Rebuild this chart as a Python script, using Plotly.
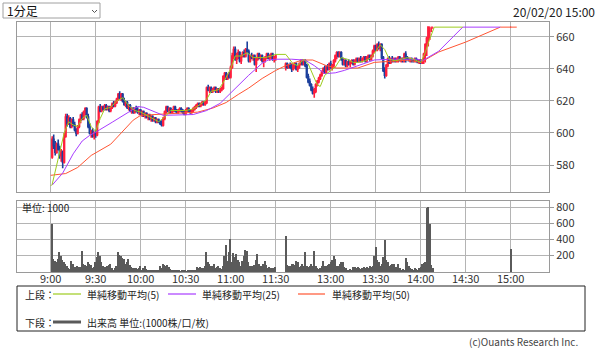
import plotly.graph_objects as go
import pandas as pd

# ---------------- data ----------------
morning_times = pd.date_range("2020-02-20 09:01", "2020-02-20 11:30", freq="min")
afternoon_times = pd.date_range("2020-02-20 12:30", "2020-02-20 14:08", freq="min")
closing_time = pd.Timestamp("2020-02-20 15:00")
bar_times = list(morning_times) + list(afternoon_times) + [closing_time]

opens = [585,596,592,588,593,590,586,588,582,598,610,606,609,604,608,605,602,600,604,608,
         611,609,613,615,610,604,600,601,598,600,599,607,616,614,616,615,617,615,616,614,
         616,618,617,619,621,624,622,624,620,618,619,616,617,614,615,613,615,614,613,614,
         612,613,611,612,610,611,609,610,608,609,607,608,607,606,605,609,613,616,614,615,
         613,614,616,614,613,614,615,614,613,612,614,615,614,613,614,615,616,617,618,617,
         618,619,618,619,628,627,628,626,627,628,626,627,626,627,628,635,637,634,636,635,
         641,648,652,646,648,650,645,648,650,648,652,651,645,648,647,648,643,646,649,647,
         648,645,646,647,649,647,648,649,646,647,
         641,643,641,642,641,640,642,643,640,641,643,645,643,645,642,635,632,630,627,625,
         626,630,632,634,636,638,640,638,641,640,643,641,642,645,648,650,648,650,646,643,
         645,642,644,643,644,645,643,645,646,645,646,645,646,647,645,647,648,646,648,651,
         654,652,655,653,655,647,639,636,642,646,644,646,645,646,645,646,647,645,646,645,
         649,647,646,645,646,645,645,646,645,644,645,644,645,649,655,659,666,666,666,
         666]
highs = [598,599,595,594,596,592,590,589,600,612,612,611,610,609,610,607,603,605,609,612,
         613,614,616,616,612,606,602,603,601,602,608,617,618,617,617,618,618,617,617,617,
         619,620,620,622,625,626,625,625,622,620,620,618,618,616,616,616,617,616,615,615,
         614,614,613,613,612,612,611,611,610,610,609,609,608,608,610,614,617,617,616,616,
         615,617,617,615,615,616,616,615,614,615,616,616,615,615,616,617,618,619,619,619,
         620,620,620,629,630,629,629,628,629,629,628,628,628,629,636,638,638,637,638,642,
         650,654,654,650,652,651,649,651,652,653,657,652,649,650,649,649,647,650,650,649,
         649,647,648,650,650,649,650,650,648,649,
         644,644,643,644,643,643,644,644,642,644,646,646,646,646,643,637,634,631,629,628,
         631,633,635,637,639,641,642,642,643,644,645,643,646,649,651,651,651,651,647,646,
         646,645,646,645,646,646,646,647,647,647,648,647,648,648,648,649,649,649,652,655,
         655,656,657,656,656,648,641,643,647,648,647,648,647,647,647,648,648,647,647,650,
         651,648,647,647,647,646,647,647,646,646,646,646,650,656,660,666,666,666,666,
         666]
lows = [584,590,586,587,589,584,582,578,581,597,604,605,603,603,604,601,598,599,603,606,
        608,608,611,609,603,599,597,597,596,597,598,606,613,613,614,614,614,614,613,613,
        615,616,616,618,620,621,620,619,617,616,615,614,613,612,612,612,613,612,611,611,
        610,610,609,609,608,608,607,607,607,606,606,606,605,604,604,608,612,613,612,612,
        612,613,613,612,612,613,613,612,611,611,613,613,612,612,613,614,615,616,616,616,
        617,617,617,618,626,625,625,625,626,625,625,625,625,626,627,633,633,633,634,634,
        640,646,645,643,646,644,643,647,647,647,650,644,644,646,645,642,638,645,646,645,
        644,641,644,646,646,645,646,645,644,645,
        639,640,640,640,638,639,640,639,638,640,642,642,642,641,634,631,629,626,624,622,
        625,629,631,633,635,637,637,637,639,639,640,639,641,644,646,647,647,645,642,642,
        641,641,642,641,643,642,642,644,644,644,644,644,645,644,644,646,645,645,647,650,
        651,651,652,651,646,638,634,635,641,643,643,644,644,644,644,644,645,644,644,644,
        644,646,645,644,644,644,644,644,644,643,643,643,643,644,648,654,658,663,665,666,
        666]
closes = [596,592,588,593,590,586,588,582,598,610,606,609,604,608,605,602,600,604,608,611,
          609,613,615,610,604,600,601,598,600,599,607,616,614,616,615,617,615,616,614,616,
          618,617,619,621,624,622,624,620,618,619,616,617,614,615,613,615,614,613,614,612,
          613,611,612,610,611,609,610,608,609,607,608,607,606,605,609,613,616,614,615,613,
          614,616,614,613,614,615,614,613,612,614,615,614,613,614,615,616,617,618,617,618,
          619,618,619,628,627,628,626,627,628,626,627,626,627,628,635,637,634,636,635,641,
          648,652,646,648,650,645,648,650,648,652,651,645,648,647,648,643,646,649,647,648,
          645,646,647,649,647,648,649,646,647,648,
          643,641,642,641,640,642,643,640,641,643,645,643,645,642,635,632,630,627,625,626,
          630,632,634,636,638,640,638,641,640,643,641,642,645,648,650,648,650,646,643,645,
          642,644,643,644,645,643,645,646,645,646,645,646,647,645,647,648,646,648,651,654,
          652,655,653,655,647,639,636,642,646,644,646,645,646,645,646,647,645,646,645,649,
          647,646,645,646,645,645,646,645,644,645,644,645,649,655,659,666,666,666,666,
          666]
volumes = [588,158,130,117,160,242,200,150,117,90,75,50,33,137,90,54,60,66,58,54,
           262,96,85,75,117,90,83,42,60,117,180,250,200,120,75,54,60,75,85,96,
           40,25,50,75,242,210,188,170,158,96,120,158,80,54,50,46,40,33,50,66,
           25,40,66,30,25,15,12,18,10,15,12,20,66,40,96,80,75,87,60,33,
           20,12,10,12,8,10,6,12,8,10,6,12,8,10,14,8,12,54,40,62,
           42,50,66,250,120,96,70,66,96,42,55,66,40,33,75,200,333,137,250,408,
           117,233,180,221,150,117,75,137,200,275,262,120,66,75,70,83,150,221,100,75,
           66,90,137,80,42,54,40,42,50,54,
           441,83,66,70,96,96,80,137,120,54,66,96,75,250,75,54,66,96,70,262,
           66,50,33,40,75,137,75,66,80,96,120,150,192,158,66,75,100,117,117,54,
           42,25,25,30,25,54,54,50,54,42,33,40,54,50,54,40,66,54,66,200,
           304,150,117,75,90,179,388,150,117,75,80,96,96,54,60,96,50,25,33,25,
           167,120,75,42,30,25,42,30,25,40,60,96,110,117,790,805,596,83,40,
           283]

ma5_times = ["09:00","09:01","09:04","09:07","09:09","09:12","09:15","09:18","09:21","09:24",
             "09:27","09:30","09:33","09:36","09:40","09:44","09:48","09:52","09:56","10:00",
             "10:04","10:08","10:12","10:16","10:20","10:25","10:30","10:35","10:40","10:44",
             "10:47","10:52","10:56","11:00","11:03","11:07","11:11","11:15","11:19","11:23",
             "11:27","11:30","12:30","12:35","12:38","12:42","12:45","12:48","12:51","12:53",
             "12:56","13:00","13:03","13:07","13:11","13:15","13:18","13:23","13:27","13:30",
             "13:33","13:36","13:39","13:43","13:47","13:51","13:55","14:00","14:03","14:05",
             "14:09","14:28"]
ma5_values = [567,568,580,592,600,607,605,604,609,611,
              604,601,609,615,616,620,622,617,614,613,
              611,609,607,610,614,614,614,615,618,621,
              626,627,633,640,648,648,650,647,647,647,
              648,649,649,643,642,646,643,636,630,629,
              636,639,641,647,646,644,644,645,647,651,
              655,652,646,645,646,647,646,644,650,656,
              666,666]
ma25_times = ["09:01","09:08","09:15","09:21","09:26","09:30","09:41","09:50","09:55","09:58",
              "10:02","10:15","10:35","10:44","10:53","11:00","11:06","11:12","11:21","11:25",
              "11:30","12:30","12:34","12:43","12:49","12:56","13:03","13:09","13:18","13:29",
              "13:40","13:58","14:01","14:12","14:28","14:53"]
ma25_values = [567.5,575,587,595,598.5,600.5,606.7,612,614.5,616.5,
               616,611,611.5,614,618.5,625,631,636,643.5,645.5,
               646,646,646,645.4,642,637,637.5,639,642,645.5,
               646,646,645,651,666,666]
ma50_times = ["09:00","09:10","09:18","09:27","09:40","09:48","09:55","10:00","10:10","10:26",
              "10:38","10:48","10:57","11:05","11:12","11:21","11:30","12:30","12:41","12:48",
              "12:57","13:04","13:18","13:29","13:51","14:00","14:12","14:30","14:53","15:04"]
ma50_values = [573.6,574.7,578.5,586,593,601,608,611,611.5,612,
               613,615.5,619,624,628,634,639,642,645.5,645.5,
               642,640.5,640.5,644,645.4,644,650.5,656.7,666,666]

tick_labels = ["9:00","9:30","10:00","10:30","11:00","11:30","13:00","13:30","14:00","14:30","15:00"]
price_ticks = [580, 600, 620, 640, 660]
volume_ticks = [200, 400, 600, 800]

# ---------------- session time scale (lunch break compressed) ----------------
LUNCH_GAP = 6.7


def session_pos(t):
    if isinstance(t, str):
        hh, mm = t.split(":")
        m = int(hh) * 60 + int(mm)
    else:
        m = t.hour * 60 + t.minute
    if m <= 11 * 60 + 30:
        return m - 9 * 60
    return 150 + LUNCH_GAP + (m - (12 * 60 + 30))


xpos = [session_pos(t) for t in bar_times]
tick_pos = [session_pos(t) for t in tick_labels]

# ---------------- pixel helpers ----------------
W, H = 600, 351
L, R, T, B = 17, 549, 22, 272


def px(x):
    return (x - L) / (R - L)


def py(y):
    return (B - y) / (B - T)


FONT = "Noto Sans CJK JP, Noto Sans, sans-serif"
RED = "#ff1f3d"
BLUE = "#1c3f9c"
GRID = "#b4b4b4"
AX = "#9a9a9a"
C5, C25, C50 = "#9dcc1e", "#a83cff", "#ff5533"

fig = go.Figure()

fig.add_trace(go.Candlestick(
    x=xpos, open=opens, high=highs, low=lows, close=closes,
    xaxis="x", yaxis="y", whiskerwidth=0,
    increasing=dict(line=dict(color=RED, width=1.6), fillcolor=RED),
    decreasing=dict(line=dict(color=BLUE, width=1.6), fillcolor=BLUE),
    showlegend=False, hoverinfo="skip"))

for times, vals, col in [(ma50_times, ma50_values, C50),
                         (ma25_times, ma25_values, C25),
                         (ma5_times, ma5_values, C5)]:
    fig.add_trace(go.Scatter(x=[session_pos(t) for t in times], y=vals, mode="lines",
                             line=dict(color=col, width=1), xaxis="x", yaxis="y",
                             showlegend=False, hoverinfo="skip"))

fig.add_trace(go.Bar(x=xpos, y=volumes, xaxis="x2", yaxis="y2", width=1.0,
                     marker=dict(color="#5a5a5a", line=dict(width=0)),
                     showlegend=False, hoverinfo="skip"))

xr = [(L - 50.7) / 1.5, (R - 50.7) / 1.5]
common_x = dict(range=xr, tickvals=tick_pos, showgrid=True, gridcolor=GRID, gridwidth=1,
                showline=True, linecolor=AX, mirror=True, zeroline=False, ticks="",
                showticklabels=False)
fig.update_layout(
    width=W, height=H, margin=dict(l=L, r=W - R, t=T, b=H - B),
    paper_bgcolor="white", plot_bgcolor="white",
    font=dict(family=FONT, size=11, color="#333"),
    bargap=0,
    xaxis=dict(domain=[0, 1], anchor="y", rangeslider=dict(visible=False), **common_x),
    yaxis=dict(domain=[py(192), 1], range=[563.2, 669.2], side="right", tickvals=price_ticks,
               ticks="outside", ticklen=4, tickcolor=AX, showgrid=True, gridcolor=GRID,
               showline=True, linecolor=AX, mirror=True, zeroline=False,
               tickfont=dict(size=11, color="#333")),
    xaxis2=dict(domain=[0, 1], anchor="y2", **common_x),
    yaxis2=dict(domain=[0, py(201)], range=[-6, 881], side="right", tickvals=volume_ticks,
                ticks="outside", ticklen=4, tickcolor=AX, showgrid=True, gridcolor=GRID,
                showline=True, linecolor=AX, mirror=True, zeroline=False,
                tickfont=dict(size=11, color="#333")),
)

shapes = []
annos = []

# time-axis labels under the volume panel, placed at the axis tick positions
for tp, tl in zip(tick_pos, tick_labels):
    annos.append(dict(x=tp, y=py(278), xref="x2", yref="paper", text=tl, showarrow=False,
                      xanchor="center", yanchor="middle", font=dict(size=11, color="#333", family=FONT)))


def text(x, y, s, size=10, anchor="left", color="#222"):
    annos.append(dict(x=px(x), y=py(y), xref="paper", yref="paper", text=s, showarrow=False,
                      xanchor=anchor, yanchor="middle", font=dict(size=size, color=color, family=FONT)))


def line(x0, y0, x1, y1, color, width=1):
    shapes.append(dict(type="line", xref="paper", yref="paper", x0=px(x0), y0=py(y0),
                       x1=px(x1), y1=py(y1), line=dict(color=color, width=width)))


# dropdown
shapes.append(dict(type="rect", xref="paper", yref="paper", x0=px(3), y0=py(3), x1=px(100), y1=py(18),
                   line=dict(color="#a0a0a0", width=1), fillcolor="white"))
shapes.append(dict(type="path", xref="paper", yref="paper",
                   path=f"M {px(92)},{py(10)} L {px(94.5)},{py(12.5)} L {px(97)},{py(10)}",
                   line=dict(color="#555", width=1)))
text(5, 11, "1分足", size=12, color="#111")
text(597, 12, "20/02/20 15:00", size=12, anchor="right", color="#222")
text(20, 207, "単位: 1000", size=10, color="#222")

# legend box
shapes.append(dict(type="rect", xref="paper", yref="paper", x0=px(17), y0=py(286), x1=px(585), y1=py(331),
                   line=dict(color="#222", width=1), fillcolor="rgba(0,0,0,0)"))
text(23, 294, "上段：", size=10)
line(53, 294, 81, 294, C5, 1.2)
text(85, 294, "単純移動平均(5)", size=10)
line(168, 294, 196, 294, C25, 1.2)
text(200, 294, "単純移動平均(25)", size=10)
line(298, 294, 325, 294, C50, 1.2)
text(330, 294, "単純移動平均(50)", size=10)
text(23, 322, "下段：", size=10)
line(53, 322, 81, 322, "#5a5a5a", 3)
text(85, 322, "出来高 単位:(1000株/口/枚)", size=10)
text(580, 341, "(c)Ouants Research Inc.", size=10, anchor="right", color="#444")

fig.update_layout(shapes=shapes, annotations=annos)

fig.write_html("out.html")
